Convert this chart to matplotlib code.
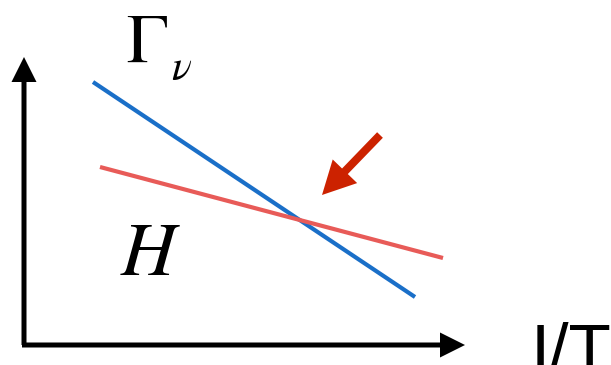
import matplotlib
matplotlib.use("Agg")
import matplotlib.pyplot as plt

# Schematic coordinates (pixel-like units, y downwards)
gamma_x = [93, 415]
gamma_y = [82, 297]
h_x = [100, 443]
h_y = [167, 258]
pointer_start = (380, 135)
pointer_end = (322, 195)

fig = plt.figure(figsize=(6.11, 3.65), dpi=100)
ax = fig.add_axes([0, 0, 1, 1])
ax.set_xlim(0, 611)
ax.set_ylim(365, 0)
ax.axis('off')

# axes arrows
ax.arrow(24, 345, 0, -288, width=5, head_width=25, head_length=25,
         length_includes_head=True, color='black', lw=0)
ax.arrow(22, 345, 443, 0, width=5, head_width=25, head_length=25,
         length_includes_head=True, color='black', lw=0)

ax.plot(gamma_x, gamma_y, color='#1a6fc8', lw=3.0, solid_capstyle='butt')
ax.plot(h_x, h_y, color='#e85b58', lw=3.0, solid_capstyle='butt')

ax.arrow(pointer_start[0], pointer_start[1],
         pointer_end[0] - pointer_start[0], pointer_end[1] - pointer_start[1],
         width=8, head_width=34, head_length=33, length_includes_head=True,
         color='#cc2200', lw=0)

ax.text(126, 62, r'$\Gamma$', fontsize=50, va='baseline', ha='left',
        math_fontfamily='stix')
ax.text(171, 80, r'$\nu$', fontsize=30, va='baseline', ha='left',
        math_fontfamily='stix')
ax.text(120, 275, r'$H$', fontsize=55, va='baseline', ha='left',
        math_fontfamily='stix')
ax.text(531, 372, 'I/T', fontsize=50, va='baseline', ha='left',
        family='Liberation Sans')

fig.savefig('out.png', dpi=100)
